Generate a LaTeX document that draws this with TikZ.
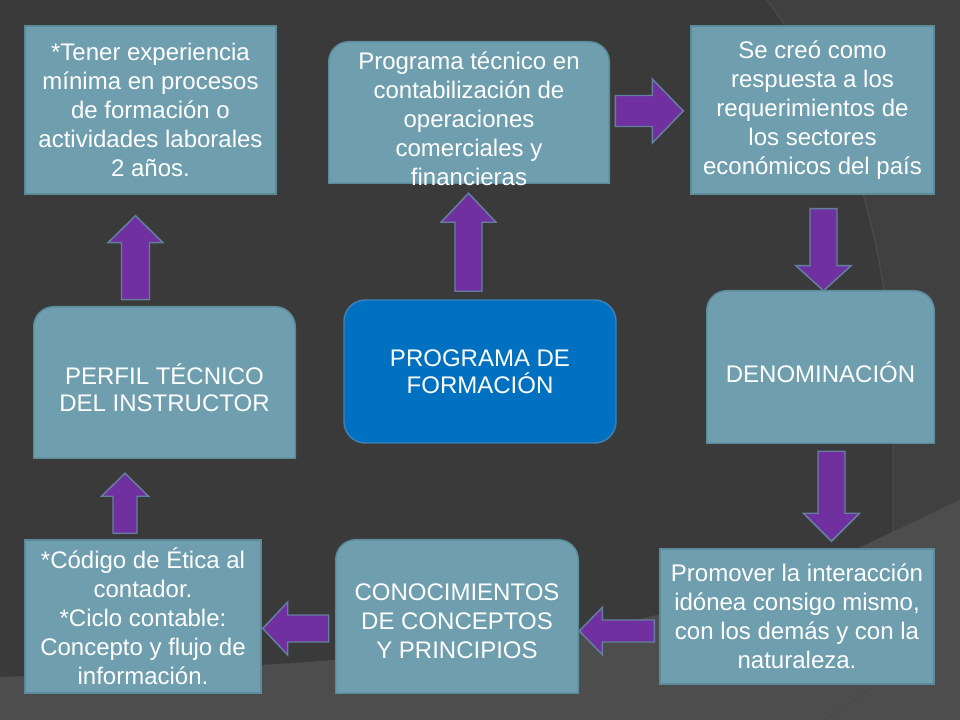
\documentclass[tikz,border=0pt]{standalone}
\usepackage{fontspec}
\setmainfont{Liberation Sans}
\usetikzlibrary{calc}
\definecolor{bgbase}{HTML}{3A3A3A}
\definecolor{bgright}{HTML}{404040}
\definecolor{bglow}{HTML}{4D4D4D}
\definecolor{bgline}{HTML}{4A4A4A}
\definecolor{boxfill}{HTML}{6F9FAF}
\definecolor{boxline}{HTML}{5B8A9B}
\definecolor{centerfill}{HTML}{0070C0}
\definecolor{centerline}{HTML}{3F80B4}
\definecolor{arrowfill}{HTML}{7030A0}
\definecolor{arrowline}{HTML}{6480A0}
\pgfdeclarelayer{back}
\pgfdeclarelayer{mid}
\pgfsetlayers{back,mid,main}
\tikzset{
  boxtxt/.style={text=white, align=center, inner sep=0pt, font=\fontsize{18}{21.75}\selectfont},
  captxt/.style={text=white, align=center, inner sep=0pt, font=\fontsize{18}{20}\selectfont},
  rectbox/.style={boxtxt, fill=boxfill, draw=boxline, line width=1.1pt},
  topbox/.style={inner sep=0pt},
  topfill/.style={fill=boxfill, draw=boxline, line width=1.1pt},
  centerbox/.style={captxt, fill=centerfill, draw=centerline, line width=1.1pt, rounded corners=16pt},
  barrow/.style={fill=arrowfill, draw=arrowline, line width=1.1pt, line join=miter},
}
% block arrow: start, end, shaft half width, head half width, head length (px)
\newcommand{\blockarrow}[5]{%
  \path[barrow] let \p1=#1, \p2=#2, \n1={atan2(\y2-\y1,\x2-\x1)}, \n2={veclen(\x2-\x1,\y2-\y1)} in
    [shift={(\p1)}, rotate=\n1]
    (0pt,{-#3*0.75pt}) -- ({\n2*1pt-#5*0.75pt},{-#3*0.75pt}) -- ({\n2*1pt-#5*0.75pt},{-#4*0.75pt})
    -- ({\n2*1pt},0pt) -- ({\n2*1pt-#5*0.75pt},{#4*0.75pt}) -- ({\n2*1pt-#5*0.75pt},{#3*0.75pt})
    -- (0pt,{#3*0.75pt}) -- cycle;}
% rounded-top shape behind a node
\newcommand{\topshape}[1]{%
  \begin{pgfonlayer}{mid}
  \path[topfill] (#1.south west) -- ([yshift=-15pt]#1.north west) arc[start angle=180,end angle=90,radius=15pt]
    -- ([xshift=-15pt]#1.north east) arc[start angle=90,end angle=0,radius=15pt] -- (#1.south east) -- cycle;
  \end{pgfonlayer}}
\begin{document}
\begin{tikzpicture}[x=0.75pt,y=0.75pt]
\useasboundingbox (0,0) rectangle (960,720);
\begin{pgfonlayer}{back}
  \fill[bgbase] (0,0) rectangle (960,720);
  \fill[bgright] (767,720) .. controls (850,610) and (893,470) .. (893,300) -- (893,0) -- (960,0) -- (960,720) -- cycle;
  \draw[bgline, line width=1pt] (767,720) .. controls (850,610) and (893,470) .. (893,300) -- (893,160);
  \fill[bglow] (0,43) .. controls (420,58) and (640,78) .. (850,168) -- (960,220) -- (960,0) -- (0,0) -- cycle;
  \draw[bgline, line width=1pt] (825,0) -- (893,47);
\end{pgfonlayer}

% boxes
\node[rectbox, minimum width=188.25pt, minimum height=126pt] (b1) at (150.5,610)
  {*Tener experiencia\\mínima en procesos\\de formación o\\actividades laborales\\2 años.};
\node[topbox, minimum width=210pt, minimum height=105.75pt] (b2) at (469,607.5) {};
\topshape{b2}
\node[boxtxt] (t2) at ($(b2.center)+(0,-6)$)
  {Programa técnico en\\contabilización de\\operaciones\\comerciales y\\financieras};
\node[rectbox, minimum width=182.25pt, minimum height=126pt] (b3) at (812.5,610)
  {Se creó como\\respuesta a los\\requerimientos de\\los sectores\\económicos del país};
\node[topbox, minimum width=195.75pt, minimum height=113.25pt] (b4) at (164.5,337.5) {};
\topshape{b4}
\node[captxt] (t4) at ($(b4.center)+(0,-5.5)$) {PERFIL TÉCNICO\\DEL INSTRUCTOR};
\node[centerbox, minimum width=204pt, minimum height=107.25pt] (b5) at (480,348.5) {PROGRAMA DE\\FORMACIÓN};
\node[topbox, minimum width=170.25pt, minimum height=114pt] (b6) at (820.5,353) {};
\topshape{b6}
\node[captxt] (t6) at ($(b6.center)+(0,-5)$) {DENOMINACIÓN};
\node[rectbox, minimum width=177pt, minimum height=114.75pt] (b7) at (143,103.5)
  {*Código de Ética al\\contador.\\*Ciclo contable:\\Concepto y flujo de\\información.};
\node[topbox, minimum width=181.5pt, minimum height=114.75pt] (b8) at (457,103.5) {};
\topshape{b8}
\node[boxtxt] (t8) at ($(b8.center)+(0,-4.5)$) {CONOCIMIENTOS\\DE CONCEPTOS\\Y PRINCIPIOS};
\node[rectbox, minimum width=205.5pt, minimum height=101.25pt] (b9) at (797,103.5)
  {Promover la interacción\\idónea consigo mismo,\\con los demás y con la\\naturaleza.};

% block arrows
\blockarrow{($(b4.north)+(-29,7)$)}{($(b1.south)+(-15,-21)$)}{14}{27.5}{27}
\blockarrow{($(b5.north)+(-11.5,8)$)}{($(b2.south)+(-0.5,-10)$)}{13.5}{27.5}{29}
\blockarrow{($(b2.east)+(6,1.5)$)}{($(b3.west)+(-7,-1)$)}{15.5}{32}{31}
\blockarrow{($(b3.south)+(11,-14)$)}{($(b6.north)+(3,0)$)}{13.5}{27.5}{25}
\blockarrow{($(b6.south)+(11,-8)$)}{($(b9.north)+(34.5,7)$)}{13.5}{28}{28}
\blockarrow{($(b9.west)+(-5,-14.5)$)}{($(b8.east)+(1,-14.5)$)}{11}{23.5}{23}
\blockarrow{($(b8.west)+(-7,-12)$)}{($(b7.east)+(1,-12)$)}{13.5}{26.5}{25}
\blockarrow{($(b7.north)+(-18,6)$)}{($(b4.south)+(-39.5,-15)$)}{12}{23.5}{23}
\end{tikzpicture}
\end{document}
